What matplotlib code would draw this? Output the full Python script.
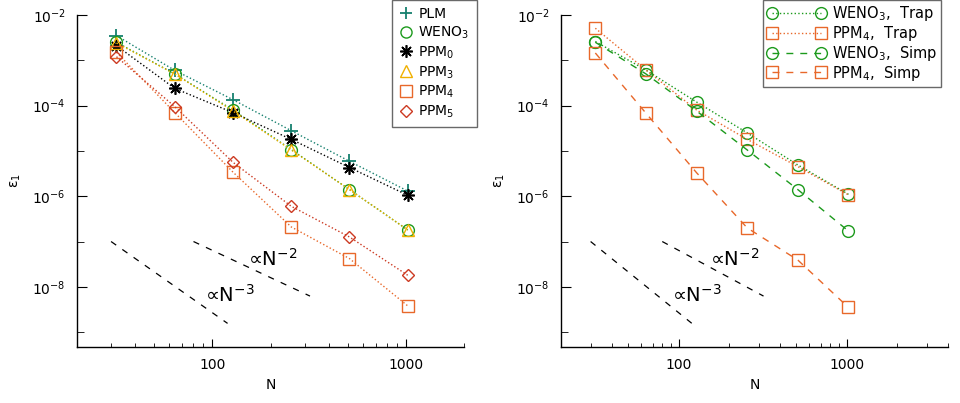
import matplotlib
matplotlib.use("Agg")
import matplotlib.pyplot as plt
from matplotlib.lines import Line2D
from matplotlib.ticker import FixedLocator, NullFormatter, LogFormatterMathtext

# resolution N and L1 error for each scheme
N = [32, 64, 128, 256, 512, 1024]

plm = [3.5e-3, 6.0e-4, 1.35e-4, 2.8e-5, 5.9e-6, 1.3e-6]
weno3 = [2.5e-3, 5.0e-4, 8.0e-5, 1.07e-5, 1.4e-6, 1.8e-7]
ppm0 = [2.1e-3, 2.4e-4, 7.0e-5, 1.8e-5, 4.3e-6, 1.05e-6]
ppm3 = [2.4e-3, 5.0e-4, 7.6e-5, 1.05e-5, 1.4e-6, 1.8e-7]
ppm4 = [1.5e-3, 7.0e-5, 3.4e-6, 2.1e-7, 4.2e-8, 3.8e-9]
ppm5 = [1.2e-3, 9.5e-5, 5.6e-6, 6.0e-7, 1.26e-7, 1.8e-8]

weno3_trap = [2.6e-3, 6.1e-4, 1.2e-4, 2.5e-5, 4.9e-6, 1.1e-6]
ppm4_trap = [5.1e-3, 6.1e-4, 8.0e-5, 1.8e-5, 4.5e-6, 1.07e-6]
weno3_simp = [2.5e-3, 5.0e-4, 7.6e-5, 1.05e-5, 1.4e-6, 1.7e-7]
ppm4_simp = [1.45e-3, 6.8e-5, 3.3e-6, 2.0e-7, 3.9e-8, 3.5e-9]

# reference slopes (end points)
ref2_n = [80, 320]
ref2_e = [1.0e-7, 6.25e-9]
ref3_n = [30, 120]
ref3_e = [1.0e-7, 1.56e-9]

c_plm = "#16806e"
c_weno = "#1c9a1c"
c_ppm0 = "black"
c_ppm3 = "#f0b000"
c_ppm4 = "#e8682a"
c_ppm5 = "#cc3a22"

plt.rcParams["font.family"] = ["DejaVu Sans"]
plt.rcParams["font.size"] = 10

fig = plt.figure(figsize=(9.6, 4.03), dpi=100)
W, H = 960.0, 403.0
ax1 = fig.add_axes([77 / W, (H - 347) / H, 387 / W, 332 / H])
ax2 = fig.add_axes([561 / W, (H - 347) / H, 387 / W, 332 / H])


def style_axis(ax, xmax):
    ax.set_xscale("log")
    ax.set_yscale("log")
    ax.set_xlim(20, xmax)
    ax.set_ylim(4.7e-10, 1e-2)
    for s in ["top", "right"]:
        ax.spines[s].set_visible(False)
    for s in ["left", "bottom"]:
        ax.spines[s].set_linewidth(1.0)
    ax.xaxis.set_major_locator(FixedLocator([100, 1000]))
    ax.set_xticklabels(["100", "1000"])
    minors = [m * d for d in [10, 100, 1000] for m in range(2, 10)]
    ax.xaxis.set_minor_locator(FixedLocator(minors))
    ax.xaxis.set_minor_formatter(NullFormatter())
    ax.yaxis.set_major_locator(FixedLocator([1e-2, 1e-4, 1e-6, 1e-8]))
    ax.yaxis.set_major_formatter(LogFormatterMathtext())
    ax.yaxis.set_minor_locator(FixedLocator([1e-3, 1e-5, 1e-7, 1e-9]))
    ax.yaxis.set_minor_formatter(NullFormatter())
    ax.tick_params(which="both", direction="in", top=False, right=False, labelsize=10)
    ax.tick_params(axis="y", which="major", length=7, pad=8)
    ax.tick_params(axis="y", which="minor", length=5)
    ax.tick_params(axis="x", which="major", length=6, pad=8)
    ax.tick_params(axis="x", which="minor", length=3)
    ax.set_xlabel("N", fontsize=10, labelpad=4)
    ax.set_ylabel("ε$_1$", fontsize=10, labelpad=7)
    # reference slopes
    ax.plot(ref2_n, ref2_e, color="black", ls=(0, (5, 6)), lw=0.9)
    ax.plot(ref3_n, ref3_e, color="black", ls=(0, (5, 6)), lw=0.9)
    ax.text(92, 4.6e-9, "∝N$^{-3}$", fontsize=14, va="baseline")
    ax.text(153, 2.9e-8, "∝N$^{-2}$", fontsize=14, va="baseline")


style_axis(ax1, 2000)
style_axis(ax2, 4000)

ms = 8.5
mk = dict(mfc="none", ms=ms, mew=1.0, lw=1.0, ls=":")
ax1.plot(N, plm, marker="+", color=c_plm, **dict(mk, ms=10, mew=1.3))
ax1.plot(N, weno3, marker="o", color=c_weno, **mk)
ax1.plot(N, ppm0, marker=(8, 2, 0), color=c_ppm0, **dict(mk, ms=9, mew=1.2))
ax1.plot(N, ppm3, marker="^", color=c_ppm3, **mk)
ax1.plot(N, ppm4, marker="s", color=c_ppm4, **mk)
ax1.plot(N, ppm5, marker="D", color=c_ppm5, **dict(mk, ms=6.5))

h1 = [
    Line2D([], [], marker="+", color=c_plm, ls="none", ms=9, mew=1.3),
    Line2D([], [], marker="o", color=c_weno, ls="none", mfc="none", ms=8),
    Line2D([], [], marker=(8, 2, 0), color=c_ppm0, ls="none", ms=9, mew=1.2),
    Line2D([], [], marker="^", color=c_ppm3, ls="none", mfc="none", ms=8),
    Line2D([], [], marker="s", color=c_ppm4, ls="none", mfc="none", ms=8),
    Line2D([], [], marker="D", color=c_ppm5, ls="none", mfc="none", ms=6.5),
]
l1 = ["PLM", "WENO$_3$", "PPM$_0$", "PPM$_3$", "PPM$_4$", "PPM$_5$"]
leg1 = fig.legend(h1, l1, loc="upper left", bbox_to_anchor=(392 / W, 1.0),
                  frameon=True, fancybox=False, fontsize=10, handlelength=1.0,
                  handletextpad=0.4, labelspacing=0.25, borderpad=0.5,
                  borderaxespad=0)
leg1.get_frame().set_edgecolor("#444444")
leg1.get_frame().set_linewidth(1.0)

ax2.plot(N, weno3_trap, marker="o", color=c_weno, label="WENO$_3$,  Trap", **mk)
ax2.plot(N, ppm4_trap, marker="s", color=c_ppm4, label="PPM$_4$,  Trap", **mk)
ax2.plot(N, weno3_simp, marker="o", color=c_weno, label="WENO$_3$,  Simp",
         **dict(mk, ls=(0, (5, 5))))
ax2.plot(N, ppm4_simp, marker="s", color=c_ppm4, label="PPM$_4$,  Simp",
         **dict(mk, ls=(0, (5, 5))))

h2, l2 = ax2.get_legend_handles_labels()
leg2 = fig.legend(h2, l2, loc="upper left", bbox_to_anchor=(763 / W, 1.0),
                  frameon=True, fancybox=False, fontsize=10.5, numpoints=2,
                  handlelength=4.0, handletextpad=0.4, labelspacing=0.05,
                  borderpad=0.3, borderaxespad=0)
leg2.get_frame().set_edgecolor("#444444")
leg2.get_frame().set_linewidth(1.0)

plt.savefig("out.png", dpi=100)
